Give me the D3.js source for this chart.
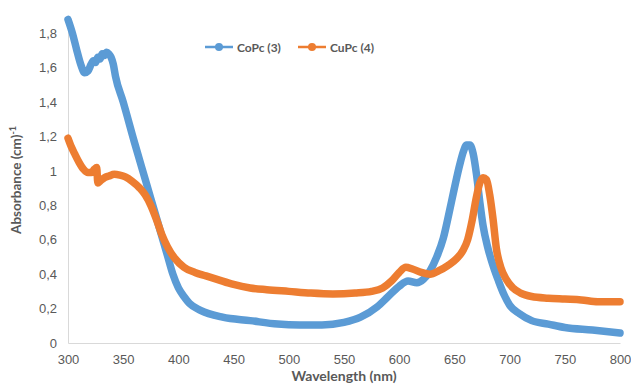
<!DOCTYPE html>
<html>
<head>
<meta charset="utf-8">
<script src="https://cdn.jsdelivr.net/npm/d3@7/dist/d3.min.js"></script>
<style>
  body { margin: 0; background: #fff; }
  svg { display: block; font-family: Lato, "Open Sans", sans-serif; }
</style>
</head>
<body>
<svg id="chart" width="631" height="391"></svg>
<script>
// wavelength (nm) / absorbance
const coWave = [300, 304, 308, 312, 315, 318, 321, 323, 325, 327, 329, 331, 333, 335, 337, 339, 341, 343,
  350, 360, 370, 380, 390, 395, 400, 405, 410, 420, 440, 465, 490, 510, 530, 550, 565, 580, 590, 600,
  608, 616, 622, 628, 634, 640, 645, 650, 655, 658, 661, 664, 667, 670, 673, 676, 680, 685, 690, 695,
  700, 709, 720, 735, 750, 775, 800];
const coAbs = [1.88, 1.80, 1.70, 1.61, 1.57, 1.58, 1.62, 1.64, 1.63, 1.66, 1.65, 1.68, 1.67, 1.69, 1.68, 1.66, 1.62, 1.55,
  1.40, 1.17, 0.95, 0.73, 0.51, 0.40, 0.32, 0.27, 0.23, 0.19, 0.15, 0.13, 0.11, 0.105, 0.105, 0.12, 0.15, 0.21, 0.27, 0.33,
  0.36, 0.35, 0.37, 0.42, 0.50, 0.61, 0.75, 0.90, 1.04, 1.11, 1.15, 1.15, 1.10, 0.98, 0.82, 0.68, 0.56, 0.45, 0.36, 0.28,
  0.22, 0.17, 0.13, 0.11, 0.09, 0.075, 0.058];

const cuWave = [300, 303, 306, 310, 314, 318, 321, 324, 326, 327, 329, 333, 337, 342, 347, 352, 358, 365, 370,
  375, 380, 385, 390, 397, 405, 415, 425, 435, 450, 465, 480, 500, 520, 540, 560, 575, 585, 593, 600, 606, 612,
  620, 628, 636, 644, 652, 658, 662, 666, 670, 673, 676, 679, 682, 685, 688, 692, 697, 703, 710, 720, 735,
  750, 765, 780, 790, 800];
const cuAbs = [1.19, 1.14, 1.10, 1.05, 1.01, 0.99, 0.99, 1.01, 1.02, 0.93, 0.94, 0.96, 0.97, 0.98, 0.975, 0.965, 0.94, 0.90, 0.86,
  0.80, 0.72, 0.63, 0.56, 0.49, 0.44, 0.41, 0.39, 0.37, 0.34, 0.32, 0.31, 0.30, 0.29, 0.285, 0.29, 0.30, 0.32, 0.36, 0.41, 0.44, 0.43,
  0.41, 0.40, 0.42, 0.45, 0.49, 0.54, 0.60, 0.71, 0.85, 0.93, 0.96, 0.95, 0.86, 0.72, 0.55, 0.44, 0.37, 0.32, 0.29, 0.27, 0.26,
  0.255, 0.25, 0.24, 0.24, 0.24];

const seriesNames = ["CoPc (3)", "CuPc (4)"];
const seriesColors = ["#5B9BD5", "#ED7D31"];
const xTicks = [300, 350, 400, 450, 500, 550, 600, 650, 700, 750, 800];
const yTicks = [0, 0.2, 0.4, 0.6, 0.8, 1, 1.2, 1.4, 1.6, 1.8];

const svg = d3.select("#chart");
const textColor = "#595959";

const x = d3.scaleLinear().domain([300, 800]).range([68, 620]);
const y = d3.scaleLinear().domain([0, 1.9]).range([343, 16]);

// axes (no tick marks, light axis lines like Excel)
const xAxis = svg.append("g")
  .attr("transform", `translate(0,${y(0)})`)
  .call(d3.axisBottom(x).tickValues(xTicks).tickSize(0).tickPadding(12).tickFormat(d3.format("d")));
const yAxis = svg.append("g")
  .attr("transform", `translate(${x(300)},0)`)
  .call(d3.axisLeft(y).tickValues(yTicks).tickSize(0).tickPadding(11)
    .tickFormat(d => String(+d.toFixed(1)).replace(".", ",")));

[xAxis, yAxis].forEach(g => {
  g.select(".domain").attr("stroke", "#d9d9d9").attr("stroke-width", 1);
  g.selectAll("text").attr("fill", textColor).style("font-size", "13px");
});

// series lines
const line = d3.line()
  .x(d => x(d[0]))
  .y(d => y(d[1]))
  .curve(d3.curveMonotoneX);

const series = [
  d3.zip(coWave, coAbs),
  d3.zip(cuWave, cuAbs)
];

series.forEach((pts, i) => {
  svg.append("path")
    .datum(pts)
    .attr("fill", "none")
    .attr("stroke", seriesColors[i])
    .attr("stroke-width", 7.5)
    .attr("stroke-linecap", "round")
    .attr("stroke-linejoin", "round")
    .attr("d", line);
});

// legend
const legendX = [205, 298];
seriesNames.forEach((name, i) => {
  const g = svg.append("g").attr("transform", `translate(${legendX[i]},47)`);
  g.append("line").attr("x1", 0).attr("x2", 28).attr("y1", 0).attr("y2", 0)
    .attr("stroke", seriesColors[i]).attr("stroke-width", 2.5);
  g.append("circle").attr("cx", 14).attr("cy", 0).attr("r", 4).attr("fill", seriesColors[i]);
  g.append("text").attr("x", 32).attr("y", 4.5)
    .attr("fill", textColor).style("font-size", "12px").style("font-weight", "bold")
    .text(name);
});

// axis titles
svg.append("text")
  .attr("x", 344).attr("y", 381)
  .attr("text-anchor", "middle")
  .attr("fill", textColor).style("font-size", "14px").style("font-weight", "bold")
  .text("Wavelength (nm)");

const yTitle = svg.append("text")
  .attr("transform", `translate(21,180) rotate(-90)`)
  .attr("text-anchor", "middle")
  .attr("fill", textColor).style("font-size", "13.5px").style("font-weight", "bold");
yTitle.append("tspan").text("Absorbance (cm)");
yTitle.append("tspan").attr("dy", -5).style("font-size", "9px").text("-1");
</script>
</body>
</html>
